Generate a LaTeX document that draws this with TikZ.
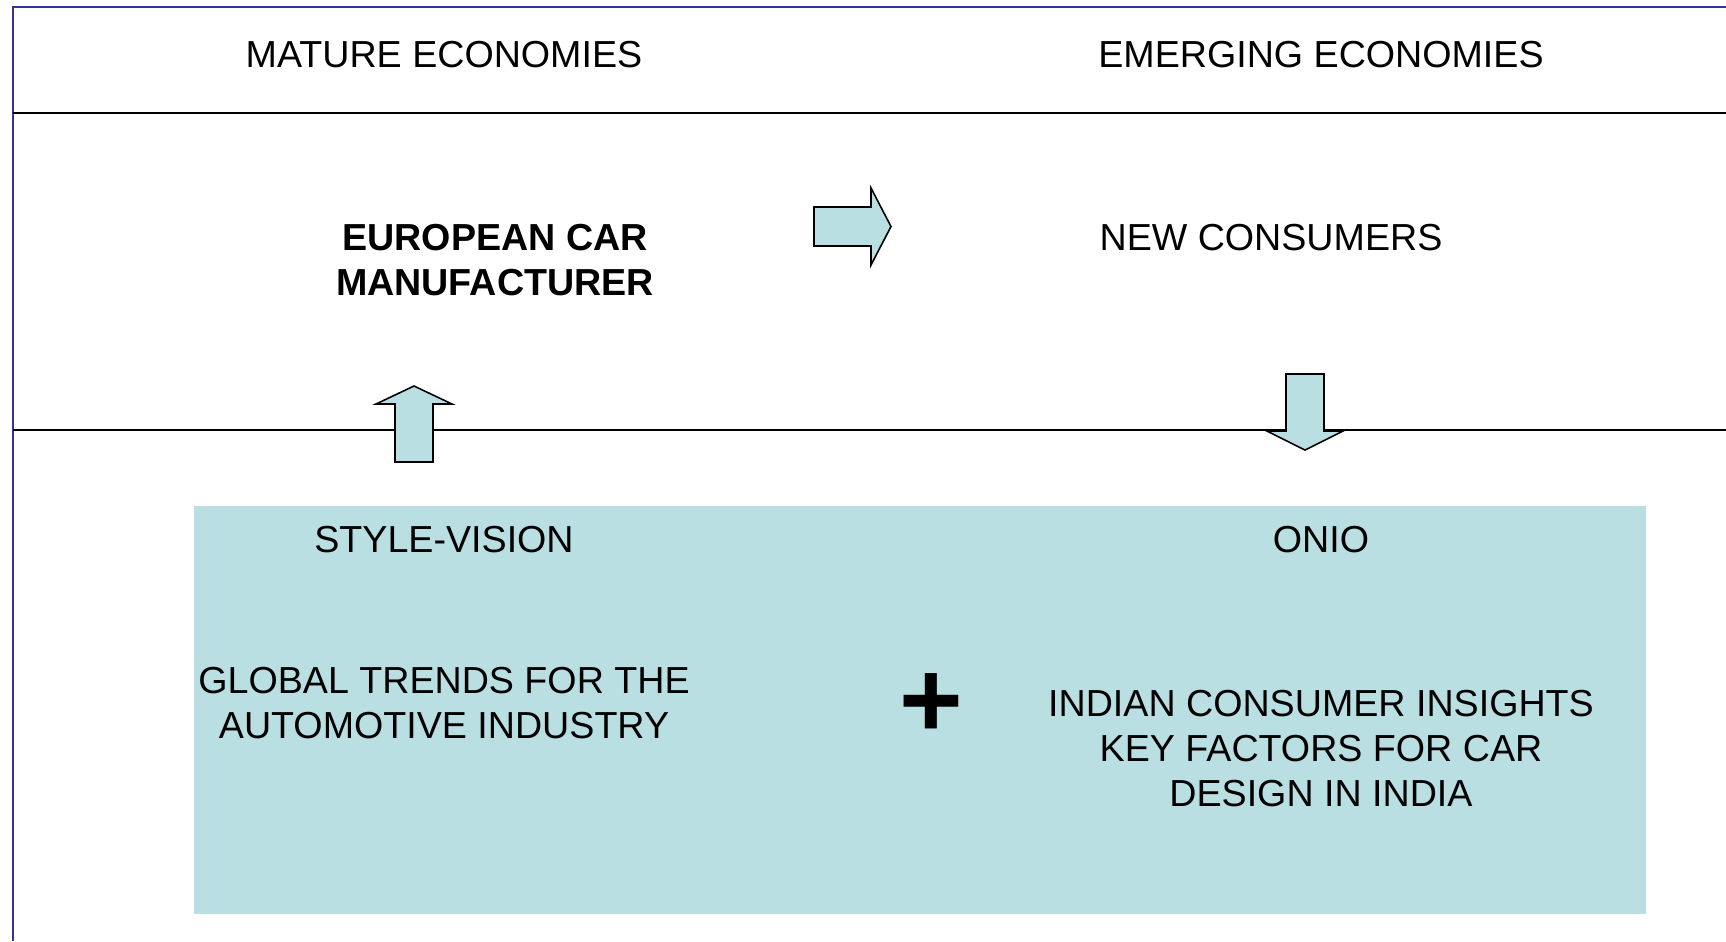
\documentclass[tikz,border=0pt]{standalone}
\usepackage{fontspec}
\setmainfont{Liberation Sans}

\definecolor{paleteal}{HTML}{B9DFE2}
\definecolor{frameblue}{HTML}{333399}

\tikzset{
  txt/.style={font=\fontsize{10.7}{12.8}\selectfont, align=center, inner sep=0pt},
  blockarrow/.style={draw=black, fill=paleteal, line width=0.45pt, line join=miter},
  rule/.style={line width=0.45pt},
}

\begin{document}
\begin{tikzpicture}[x=0.01cm, y=-0.01cm]
      \useasboundingbox (0,0) rectangle (1726,941);
      \fill[white] (0,0) rectangle (1726,941);

      % frame and the two dividing lines
      \draw[frameblue, line width=0.6pt] (13,941) -- (13,7) -- (1726,7);
      \draw[rule] (13,113) -- (1726,113);
      \draw[rule] (13,430) -- (1726,430);

      \fill[paleteal] (194,506) rectangle (1646,914);

      % block arrows
      \draw[blockarrow] (814,207) -- (871,207) -- (871,188) -- (891,226.5) --
      (871,265) -- (871,246) -- (814,246) -- cycle;
      \draw[blockarrow] (395,462) -- (395,404) -- (376,404) -- (414,386) --
      (452,404) -- (433,404) -- (433,462) -- cycle;
      \draw[blockarrow] (1286,374) -- (1324,374) -- (1324,431) -- (1343,431) --
      (1305,450) -- (1267,431) -- (1286,431) -- cycle;

      \node[txt] (mature) at (444,55) {MATURE ECONOMIES};
      \node[txt] (emerging) at (1321,55) {EMERGING ECONOMIES};

      \node[txt, font=\fontsize{10.7}{12.8}\selectfont\bfseries] (maker) at (495,260)
        {EUROPEAN CAR\\MANUFACTURER};
      \node[txt] (consumers) at (1271,238) {NEW CONSUMERS};

      \node[txt] (style) at (444,540) {STYLE-VISION};
      \node[txt] (onio) at (1321,540) {ONIO};

      \node[txt] (trends) at (444,703) {GLOBAL TRENDS FOR THE\\AUTOMOTIVE INDUSTRY};
      \node[txt] (insights) at (1321,749)
        {INDIAN CONSUMER INSIGHTS\\KEY FACTORS FOR CAR\\DESIGN IN INDIA};

      \node[inner sep=0pt, anchor=base, font=\fontsize{31}{31}\selectfont\bfseries]
        (plus) at (931,737) {+};
    \end{tikzpicture}
\end{document}
